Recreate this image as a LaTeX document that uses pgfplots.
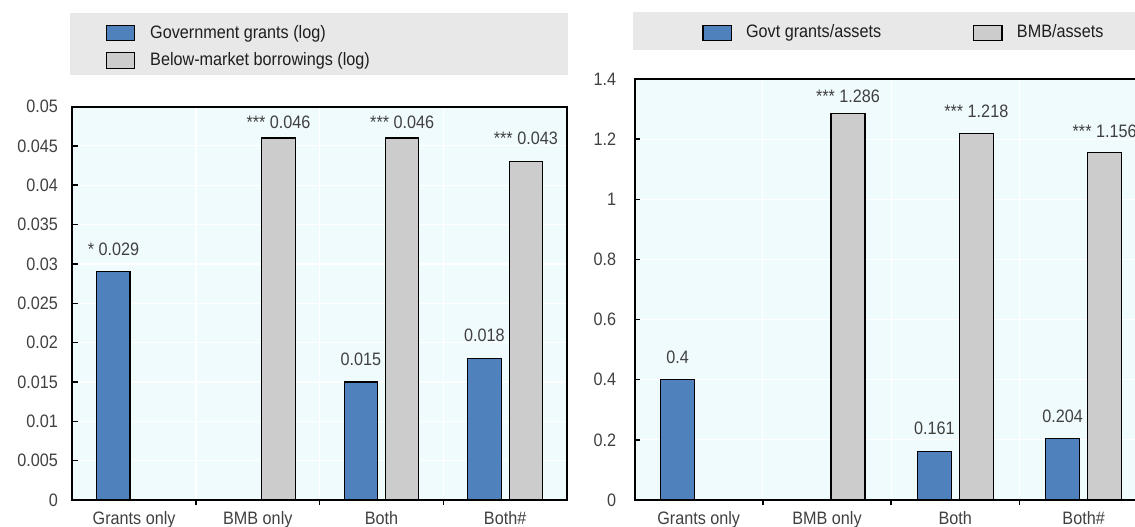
\documentclass[border=0pt]{standalone}
\usepackage{pgfplots}
\pgfplotsset{compat=1.18}
\usepackage{pgfplotstable}
\usepackage{fontspec}
\setmainfont[FakeStretch=0.9]{Liberation Sans}

\definecolor{barblue}{HTML}{4F81BD}
\definecolor{bargray}{HTML}{CCCCCC}
\definecolor{panelbg}{HTML}{F0FBFE}
\definecolor{keybg}{HTML}{E8E8E8}
\definecolor{labgray}{HTML}{404040}
\definecolor{keytext}{HTML}{1E1E1E}

% x: category index, y: value, lab: printed label, dy: label lift above bar (pt)
\pgfplotstableread[col sep=comma]{
x,y,lab,dy
0,0.029,* 0.029,8
2,0.015,0.015,8
3,0.018,0.018,8
}\grantsLog
\pgfplotstableread[col sep=comma]{
x,y,lab,dy
1,0.046,*** 0.046,4.2
2,0.046,*** 0.046,4.2
3,0.043,*** 0.043,8
}\bmbLog
\pgfplotstableread[col sep=comma]{
x,y,lab,dy
0,0.4,0.4,8
2,0.161,0.161,8
3,0.204,0.204,8
}\grantsAssets
\pgfplotstableread[col sep=comma]{
x,y,lab,dy
1,1.286,*** 1.286,5
2,1.218,*** 1.218,8
3,1.156,*** 1.156,7.3
}\bmbAssets

\newcommand{\chartfont}{\fontsize{9}{11}\selectfont}

\pgfplotsset{
  panel/.style={
    scale only axis,
    xmin=-0.5, xmax=3.5,
    ymin=0,
    scaled y ticks=false,
    axis background/.style={fill=panelbg},
    axis line style={black, line width=1pt},
    tick align=inside,
    xtick={0,1,2,3},
    xticklabels={Grants only,BMB only,Both,Both\#},
    minor xtick={0.5,1.5,2.5},
    xtick pos=left,
    ytick pos=left,
    major x tick style={draw=none},
    minor x tick style={black, line width=0.75pt},
    ytick style={black, line width=0.75pt},
    major tick length=2.6pt,
    minor tick length=2.6pt,
    ymajorgrids, xminorgrids,
    major grid style={white, line width=0.6pt},
    minor grid style={white, line width=0.6pt},
    /pgf/number format/assume math mode=true,
    tick label style={font=\chartfont, text=labgray},
    xticklabel style={inner sep=0pt, anchor=north, yshift=-3pt},
    ybar,
    point meta=explicit symbolic,
    nodes near coords,
    visualization depends on={\thisrow{dy} \as \labdy},
    nodes near coords style={font=\chartfont, text=labgray, inner sep=0pt,
      text depth=0pt, anchor=south, yshift=\labdy pt},
    legend cell align=left,
    legend image code/.code={%
      \draw[##1, line width=0.6pt] (0pt,-3.9pt) rectangle (14.15pt,3.9pt);},
  },
  keystyle/.style={draw=none, fill=none, inner sep=0pt, outer sep=0pt,
    font=\chartfont, text=keytext,
    nodes={inner sep=0pt, text height=7pt, text depth=2pt}},
  blueset/.style={fill=barblue, draw=black, line width=0.6pt},
  grayset/.style={fill=bargray, draw=black, line width=0.6pt},
}

\begin{document}
\begin{tikzpicture}[font=\chartfont]
\useasboundingbox (0,0) rectangle (567.5pt,263pt);
\clip (0,0) rectangle (567.5pt,263pt);

% key backgrounds
\fill[keybg] (35pt,225.5pt) rectangle (283.85pt,256.65pt);
\fill[keybg] (316.5pt,238pt) rectangle (580pt,256.85pt);

% left panel: log amounts
\begin{axis}[panel,
  at={(36.15pt,13pt)}, anchor=south west,
  width=247.35pt, height=196.75pt,
  ymax=0.05,
  ytick={0,0.005,0.01,0.015,0.02,0.025,0.03,0.035,0.04,0.045,0.05},
  yticklabels={0,0.005,0.01,0.015,0.02,0.025,0.03,0.035,0.04,0.045,0.05},
  yticklabel style={inner sep=0pt, anchor=east, xshift=-7pt},
  legend style={keystyle, at={(0.0675,1.152)}, anchor=west, row sep=4.65pt,
    /tikz/every odd column/.append style={column sep=7.5pt}},
]
\addplot[blueset, bar width=16.65pt, bar shift=-10.35pt]
  table[x=x, y=y, meta=lab] {\grantsLog};
\addplot[grayset, bar width=16.65pt, bar shift=10.35pt]
  table[x=x, y=y, meta=lab] {\bmbLog};
\legend{Government grants (log), Below-market borrowings (log)}
\end{axis}

% right panel: ratios to assets
\begin{axis}[panel,
  at={(317.25pt,13pt)}, anchor=south west,
  width=256.65pt, height=210.5pt,
  ymax=1.4,
  ytick={0,0.2,0.4,0.6,0.8,1,1.2,1.4},
  yticklabels={0,0.2,0.4,0.6,0.8,1,1.2,1.4},
  yticklabel style={inner sep=0pt, anchor=east, xshift=-9pt},
  legend columns=2,
  legend style={keystyle, at={(0.1321,1.1093)}, anchor=west,
    /tikz/every odd column/.append style={column sep=7.15pt},
    /tikz/every even column/.append style={column sep=46pt}},
]
\addplot[blueset, bar width=17pt, bar shift=-10.5pt]
  table[x=x, y=y, meta=lab] {\grantsAssets};
\addplot[grayset, bar width=17pt, bar shift=10.5pt]
  table[x=x, y=y, meta=lab] {\bmbAssets};
\legend{Govt grants/assets, BMB/assets}
\end{axis}
\end{tikzpicture}
\end{document}
